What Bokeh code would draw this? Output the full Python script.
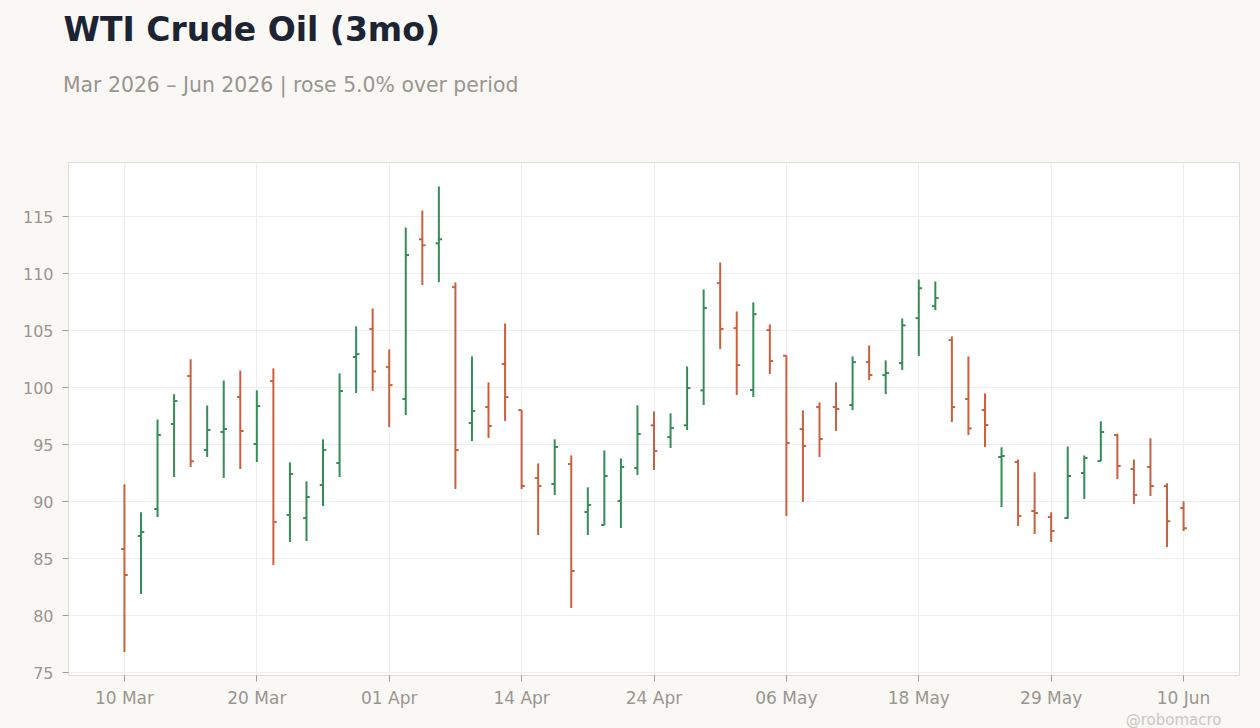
from bokeh.plotting import figure
from bokeh.models import Range1d, FixedTicker, ColumnDataSource, Title
from bokeh.layouts import column
from bokeh.core.properties import value
from bokeh.embed import file_html
from bokeh.resources import INLINE

# ---- data ----
dates = [
    "2026-03-10", "2026-03-11", "2026-03-12", "2026-03-13", "2026-03-16", "2026-03-17",
    "2026-03-18", "2026-03-19", "2026-03-20", "2026-03-23", "2026-03-24", "2026-03-25",
    "2026-03-26", "2026-03-27", "2026-03-30", "2026-03-31", "2026-04-01", "2026-04-02",
    "2026-04-06", "2026-04-07", "2026-04-08", "2026-04-09", "2026-04-10", "2026-04-13",
    "2026-04-14", "2026-04-15", "2026-04-16", "2026-04-17", "2026-04-20", "2026-04-21",
    "2026-04-22", "2026-04-23", "2026-04-24", "2026-04-27", "2026-04-28", "2026-04-29",
    "2026-04-30", "2026-05-01", "2026-05-04", "2026-05-05", "2026-05-06", "2026-05-07",
    "2026-05-08", "2026-05-11", "2026-05-12", "2026-05-13", "2026-05-14", "2026-05-15",
    "2026-05-18", "2026-05-19", "2026-05-20", "2026-05-21", "2026-05-22", "2026-05-26",
    "2026-05-27", "2026-05-28", "2026-05-29", "2026-06-01", "2026-06-02", "2026-06-03",
    "2026-06-04", "2026-06-05", "2026-06-08", "2026-06-09", "2026-06-10",
]

opens = [
    85.85, 86.99, 89.36, 96.81, 101.02, 94.53, 96.11, 99.18, 95.06, 100.58,
    88.83, 88.57, 91.46, 93.39, 102.69, 105.15, 101.81, 99.01, 113.04, 112.69,
    108.83, 96.90, 98.30, 102.08, 98.04, 92.08, 91.55, 93.30, 89.09, 87.95,
    90.06, 92.95, 96.70, 95.67, 96.70, 99.77, 109.18, 105.23, 99.80, 105.06,
    102.81, 96.37, 98.30, 98.30, 98.48, 102.25, 101.11, 102.16, 106.11, 107.16,
    104.18, 99.01, 98.04, 93.92, 93.48, 89.18, 88.65, 88.57, 92.51, 93.57,
    95.85, 92.87, 93.04, 91.37, 89.44,
]
highs = [
    91.52, 89.06, 97.22, 99.42, 102.49, 98.45, 100.64, 101.52, 99.77, 101.70,
    93.45, 91.78, 95.47, 101.26, 105.38, 106.96, 103.36, 114.06, 115.56, 117.66,
    109.24, 102.75, 100.47, 105.64, 98.04, 93.36, 95.47, 94.06, 91.26, 94.50,
    93.80, 98.45, 97.92, 97.75, 101.87, 108.63, 110.99, 106.70, 107.49, 105.56,
    102.81, 98.01, 98.71, 100.47, 102.75, 103.71, 102.40, 106.08, 109.50, 109.33,
    104.50, 102.75, 99.50, 94.77, 93.71, 92.57, 89.06, 94.85, 94.06, 97.05,
    95.96, 93.71, 95.56, 91.61, 90.03,
]
lows = [
    76.81, 81.90, 88.65, 92.16, 93.04, 93.92, 92.08, 92.87, 93.48, 84.44,
    86.46, 86.55, 89.62, 92.16, 99.53, 99.71, 96.55, 97.60, 109.01, 109.27,
    91.11, 95.32, 95.58, 97.08, 91.11, 87.08, 90.58, 80.67, 87.08, 87.92,
    87.69, 92.34, 92.78, 94.71, 96.29, 98.48, 103.39, 99.36, 99.18, 101.20,
    88.74, 89.97, 93.92, 96.20, 98.04, 100.67, 99.44, 101.55, 102.78, 106.81,
    96.99, 95.85, 94.80, 89.53, 87.87, 87.16, 86.46, 88.51, 90.23, 93.54,
    91.99, 89.80, 90.50, 86.02, 87.43,
]
closes = [
    83.57, 87.34, 95.85, 98.83, 93.54, 96.29, 96.37, 96.20, 98.39, 88.22,
    92.43, 90.41, 94.53, 99.71, 102.95, 101.43, 100.23, 111.64, 112.51, 113.04,
    94.53, 97.95, 96.64, 99.18, 91.37, 91.37, 94.80, 83.92, 89.71, 92.25,
    93.04, 95.94, 94.44, 96.46, 99.97, 106.99, 105.15, 101.99, 106.46, 102.34,
    95.15, 94.88, 95.50, 98.13, 102.25, 101.11, 101.29, 105.47, 108.74, 107.87,
    98.30, 96.43, 96.73, 94.01, 88.74, 89.01, 87.43, 92.25, 93.83, 96.11,
    93.13, 90.58, 91.37, 88.27, 87.66,
]

tick_index = [0, 8, 16, 24, 32, 40, 48, 56, 64]
tick_labels = ["10 Mar", "20 Mar", "01 Apr", "14 Apr", "24 Apr", "06 May", "18 May", "29 May", "10 Jun"]
y_ticks = [75, 80, 85, 90, 95, 100, 105, 110, 115]

title_text = "WTI Crude Oil (3mo)"
subtitle_text = "Mar 2026 \u2013 Jun 2026 | rose 5.0% over period"
watermark_text = "@robomacro"

UP = "#368c58"
DOWN = "#c9603f"
BG = "#f9f8f5"
FONT = "DejaVu Sans"
W = 1260
HEAD_H = 160

# ---- header (title + subtitle) ----
head = figure(
    width=W, height=HEAD_H, output_backend="svg", toolbar_location=None,
    x_range=Range1d(0, W), y_range=Range1d(HEAD_H, 16),
    x_axis_type=None, y_axis_type=None, title=None,
    min_border_left=0, min_border_right=0, min_border_top=0, min_border_bottom=0,
)
head.frame_align = False
head.grid.visible = False
head.outline_line_color = None
head.background_fill_color = BG
head.border_fill_color = BG
head.text(x=[63], y=[42.3], text=[title_text], text_font=value(FONT),
          text_font_size=value("33px"), text_font_style=value("bold"),
          text_color="#1c2434", text_baseline=value("alphabetic"), text_align=value("left"))
head.text(x=[62.5], y=[92], text=[subtitle_text], text_font=value(FONT),
          text_font_size=value("20.4px"), text_font_style=value("normal"),
          text_color="#99958f", text_baseline=value("alphabetic"), text_align=value("left"))

# ---- main OHLC figure ----
p = figure(
    width=W, height=728 - HEAD_H,
    output_backend="svg", toolbar_location=None,
    x_range=Range1d(-3.38, 67.38), y_range=Range1d(74.74, 119.77),
    min_border_left=68, min_border_right=21, min_border_top=2, min_border_bottom=53,
)
p.frame_align = False
p.background_fill_color = "white"
p.border_fill_color = BG
p.outline_line_color = "#e0dbd5"
p.outline_line_width = 1

xs = list(range(len(dates)))
colors = [UP if c >= o else DOWN for o, c in zip(opens, closes)]
tick_w = 0.2
src = ColumnDataSource(dict(
    x=xs, o=opens, h=highs, l=lows, c=closes, color=colors,
    xl=[x - tick_w for x in xs], xr=[x + tick_w for x in xs],
))
p.segment(x0="x", y0="l", x1="x", y1="h", source=src, line_color="color", line_width=2)
p.segment(x0="xl", y0="o", x1="x", y1="o", source=src, line_color="color", line_width=2)
p.segment(x0="x", y0="c", x1="xr", y1="c", source=src, line_color="color", line_width=2)

p.xaxis.ticker = FixedTicker(ticks=tick_index)
p.xaxis.major_label_overrides = {i: t for i, t in zip(tick_index, tick_labels)}
p.yaxis.ticker = FixedTicker(ticks=y_ticks)
for ax in (p.xaxis[0], p.yaxis[0]):
    ax.axis_line_color = None
    ax.major_tick_line_color = "#a09b96"
    ax.major_tick_out = 6
    ax.major_tick_in = 0
    ax.minor_tick_line_color = None
    ax.major_label_text_font = FONT
    ax.major_label_text_color = "#9a958f"
p.xaxis.major_label_text_font_size = "17px"
p.yaxis.major_label_text_font_size = "16px"
p.xaxis.major_label_standoff = 6
p.yaxis.major_label_standoff = 9

p.xgrid.grid_line_color = "#eeeeee"
p.ygrid.grid_line_color = "#eeeeee"

p.add_layout(Title(text=watermark_text, align="right", offset=18, standoff=-36,
                   text_font=FONT, text_font_size="15px", text_font_style="normal",
                   text_color="#cbc7c2"), "below")

layout = column(head, p, spacing=0)

html = file_html(layout, INLINE)
html = html.replace("</head>", "<style>body{background:%s;}</style></head>" % BG, 1)
open("out.html", "w").write(html)
